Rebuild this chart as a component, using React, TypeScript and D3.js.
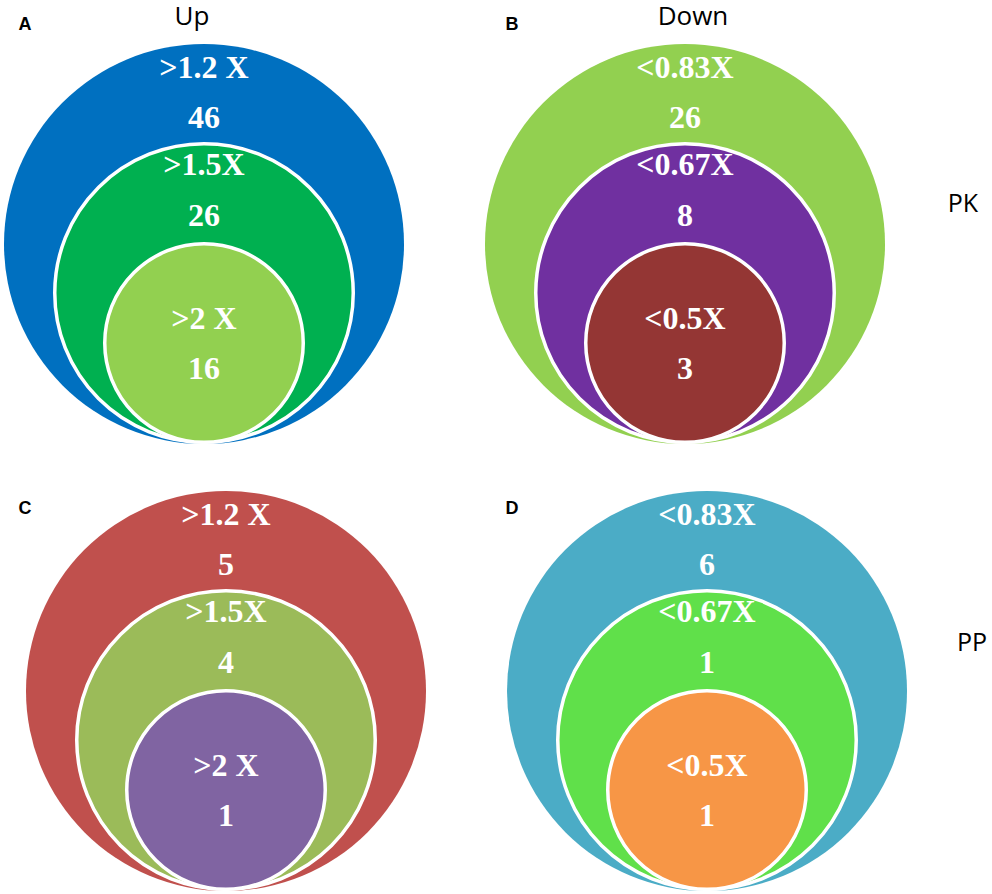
import React from "react";
import * as d3 from "d3";

const panelLetters = ["A", "B", "C", "D"];
const columnTitles = ["Up", "Down"];
const rowTitles = ["PK", "PP"];
const thresholdLabels = [
  [">1.2 X", ">1.5X", ">2 X"],
  ["<0.83X", "<0.67X", "<0.5X"],
  [">1.2 X", ">1.5X", ">2 X"],
  ["<0.83X", "<0.67X", "<0.5X"],
];
const counts = [
  [46, 26, 16],
  [26, 8, 3],
  [5, 4, 1],
  [6, 1, 1],
];
const fillColors = [
  ["#0070C0", "#00B050", "#92D050"],
  ["#92D050", "#7030A0", "#943634"],
  ["#C0504D", "#9BBB59", "#8064A2"],
  ["#4BACC6", "#60E04A", "#F79646"],
];

const W = 992;
const H = 894;

// layout
const colX = d3.scaleOrdinal<number, number>().domain([0, 1]).range([204, 685]);
const rowOffsetX = d3.scaleOrdinal<number, number>().domain([0, 1]).range([0, 22]);
const rowBottom = d3.scaleOrdinal<number, number>().domain([0, 1]).range([444, 891]);
const radius = d3.scaleOrdinal<number, number>().domain([0, 1, 2]).range([200, 151, 101]);
const labelDy = d3.scaleOrdinal<number, number>().domain([0, 1, 2]).range([34, 33, 87]);
const countDy = d3.scaleOrdinal<number, number>().domain([0, 1, 2]).range([84, 84, 137]);

export default function App() {
  return (
    <svg
      width={W}
      height={H}
      style={{ position: "absolute", left: 0, top: 0, background: "#fff" }}
    >
      {counts.map((vals, p) => {
        const col = p % 2;
        const row = Math.floor(p / 2);
        const cx = colX(col) + rowOffsetX(row);
        const bottom = rowBottom(row);
        const letterY = row === 0 ? 30 : 514;
        const letterX = col === 0 ? 25 : 512;
        return (
          <g key={p}>
            <text
              x={letterX}
              y={letterY}
              textAnchor="middle"
              fontFamily="'Liberation Sans', Arial, sans-serif"
              fontWeight="bold"
              fontSize={18}
              fill="#000"
            >
              {panelLetters[p]}
            </text>
            {vals.map((v, i) => {
              const r = radius(i);
              const cy = bottom - r;
              return (
                <circle
                  key={"c" + i}
                  cx={cx}
                  cy={cy}
                  r={i === 0 ? r : r - 1.75}
                  fill={fillColors[p][i]}
                  stroke={i === 0 ? "none" : "#fff"}
                  strokeWidth={3.5}
                />
              );
            })}
            {vals.map((v, i) => {
              const r = radius(i);
              const top = bottom - 2 * r;
              return (
                <g key={"t" + i}>
                  <text
                    x={cx}
                    y={top + labelDy(i)}
                    textAnchor="middle"
                    fontFamily="'Liberation Serif', 'Times New Roman', serif"
                    fontWeight="bold"
                    fontSize={32}
                    fill="#fff"
                  >
                    {thresholdLabels[p][i]}
                  </text>
                  <text
                    x={cx}
                    y={top + countDy(i)}
                    textAnchor="middle"
                    fontFamily="'Liberation Serif', 'Times New Roman', serif"
                    fontWeight="bold"
                    fontSize={32}
                    fill="#fff"
                  >
                    {v}
                  </text>
                </g>
              );
            })}
          </g>
        );
      })}
      {columnTitles.map((t, i) => (
        <text
          key={t}
          x={i === 0 ? 192 : 693}
          y={25}
          textAnchor="middle"
          fontFamily="'Open Sans', sans-serif"
          fontSize={26}
          fill="#000"
        >
          {t}
        </text>
      ))}
      {rowTitles.map((t, i) => (
        <text
          key={t}
          x={i === 0 ? 963 : 972}
          y={i === 0 ? 212 : 651}
          textAnchor="middle"
          fontFamily="'Open Sans', sans-serif"
          fontSize={25}
          fill="#000"
        >
          {t}
        </text>
      ))}
    </svg>
  );
}
